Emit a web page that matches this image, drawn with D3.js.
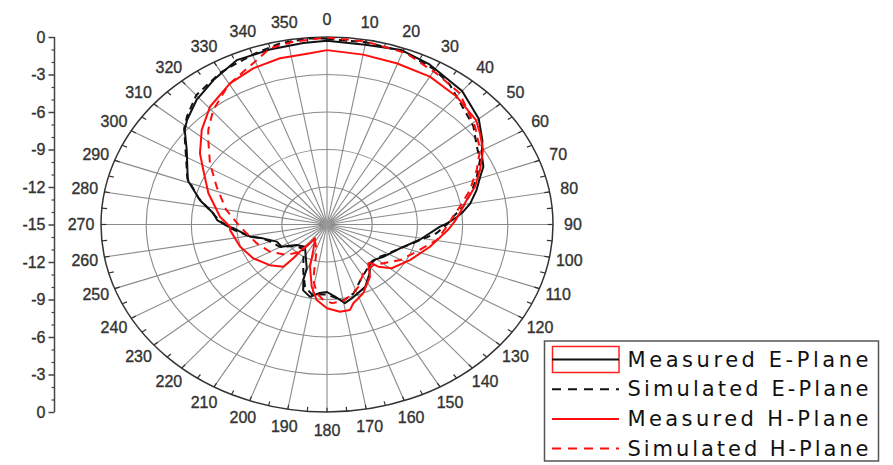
<!DOCTYPE html>
<html>
<head>
<meta charset="utf-8">
<script src="https://cdn.jsdelivr.net/npm/d3@7/dist/d3.min.js"></script>
<style>
  html, body { margin: 0; padding: 0; background: #fff; }
  svg { display: block; }
  text { font-family: "Liberation Sans", Arial, sans-serif; }
  text.legend-label { font-family: "DejaVu Sans", Verdana, sans-serif; }
</style>
</head>
<body>
<svg id="chart" width="893" height="465"></svg>
<script>
// Radiation pattern, normalised gain in dB (0 at rim, -15 at centre)
const angleLabels = ["0","10","20","30","40","50","60","70","80","90","100","110",
  "120","130","140","150","160","170","180","190","200","210","220","230",
  "240","250","260","270","280","290","300","310","320","330","340","350"];
const axisTickLabels = ["0","-3","-6","-9","-12","-15","-12","-9","-6","-3","0"];
const seriesNames = ["Measured E-Plane", "Simulated E-Plane", "Measured H-Plane", "Simulated H-Plane"];

const measE_angle = [0, 10, 19.5, 28, 40, 50, 57, 61, 66, 69.5, 74.5, 80, 83.5, 86, 89.3, 91.3,
  101, 111.5, 124.6, 132.7, 137.5, 143.8, 153, 163, 169.3, 174.7, 180, 185, 191, 196.7, 199.5,
  201, 212, 219.4, 231, 239.4, 247.6, 255.4, 259.2, 267.2, 268.5, 272.8, 276.8, 283, 291,
  302.6, 308.7, 312, 319, 327, 335.5, 344.8, 353.8, 360];
const measE_db = [-0.3, -0.4, -0.2, -0.5, -1.05, -1.85, -2.7, -3.26, -3.64, -4.15, -4.7, -5.35, -5.9, -6.35, -7.0, -7.5,
  -8.7, -9.8, -10.45, -10.8, -10.8, -10.2, -9.4, -8.95, -8.6, -9.2, -9.6, -9.5, -9.1, -9.5, -10.3,
  -11.25, -12.3, -12.7, -12.4, -11.5, -11.4, -10.6, -9.8, -8.8, -8.45, -7.7, -7.4, -6.35, -5.1,
  -3.95, -2.9, -2.5, -1.8, -1.2, -0.55, -0.5, -0.4, -0.3];

const simE_angle = [0, 10, 20, 30, 36, 48.6, 51, 58, 63, 69, 74.7, 81, 85.7, 90, 95.5, 103,
  113.8, 129.3, 138.7, 151, 162.4, 170, 180, 190, 196.3, 202.6, 211.4, 220, 232, 240, 250,
  256, 260, 266, 272, 278, 284, 292, 303, 309, 313, 320, 329.6, 335, 341, 348, 356, 360];
const simE_db = [-0.15, -0.2, -0.25, -0.7, -1.15, -2.35, -2.5, -3.27, -3.6, -4.35, -5.05, -5.85, -6.6, -7.05, -7.7, -8.9,
  -9.95, -10.75, -10.7, -10.2, -9.2, -8.8, -9.4, -9.3, -9.8, -10.9, -12.0, -12.5, -12.2, -11.4, -11.0,
  -10.5, -9.7, -8.8, -7.9, -7.2, -6.2, -5.0, -3.8, -2.8, -2.3, -1.5, -0.95, -0.78, -0.5, -0.17, -0.06, -0.15];

const measH_angle = [0, 10, 19.7, 30, 40, 49.8, 54.3, 60, 66.8, 72.9, 78, 82.6, 87.6, 93, 104.6,
  117.3, 129.2, 134.7, 136.3, 138.6, 145.7, 156.4, 164.5, 167.4, 173, 180, 186.5, 191.5, 198.5,
  204, 215.8, 217, 219.6, 219.6, 220.7, 229.4, 241, 253, 266, 268.4, 275, 279, 287.6, 298, 304,
  312.3, 320.5, 330.3, 338.6, 346.8, 355.3, 360];
const measH_db = [-1.05, -1.2, -1.3, -1.34, -1.63, -2.05, -2.5, -3.04, -3.95, -4.72, -5.52, -6.0, -6.45, -6.95, -7.94,
  -8.8, -9.46, -10.2, -10.7, -10.86, -9.94, -9.0, -8.46, -8.0, -7.97, -8.3, -8.92, -9.92, -11.44,
  -12.77, -13.64, -13.1, -12.5, -11.5, -10.55, -10.0, -9.41, -8.96, -8.55, -8.56, -7.87, -7.59, -6.74, -5.7, -4.83,
  -3.76, -2.79, -2.0, -1.58, -1.34, -1.26, -1.05];

const simH_angle = [0, 10, 21, 31, 40, 51.5, 59.6, 66.3, 73.8, 80.8, 86, 90, 99.7, 110, 120.4,
  129.7, 136.5, 148.3, 157.3, 162.4, 170, 177, 182.3, 187, 191.6, 194.4, 198.5, 212.7, 217,
  219.5, 227.6, 240, 252, 268.3, 280, 292.4, 302.2, 310.6, 313.8, 320.5, 329.6, 334.9, 340.5,
  345, 351.3, 360];
const simH_db = [-0.05, -0.14, -0.32, -0.9, -1.3, -2.44, -3.22, -4.15, -5.12, -6.06, -6.65, -6.95, -7.61, -8.66, -9.38,
  -10.14, -10.53, -10.41, -9.6, -9.22, -8.8, -8.7, -8.95, -9.45, -10.47, -11.8, -12.85, -13.5, -13.1,
  -12.18, -11.38, -10.64, -10.1, -9.22, -8.2, -7.08, -5.82, -4.62, -4.08, -3.13, -2.06, -1.64, -1.04,
  -0.4, -0.21, -0.05];

const series = [
  { name: seriesNames[0], angle: measE_angle, db: measE_db, color: "#111111", dash: null },
  { name: seriesNames[1], angle: simE_angle,  db: simE_db,  color: "#111111", dash: "7,5" },
  { name: seriesNames[2], angle: measH_angle, db: measH_db, color: "#ff0d0d", dash: null },
  { name: seriesNames[3], angle: simH_angle,  db: simH_db,  color: "#ff0d0d", dash: "8,6" }
];

const svg = d3.select("#chart");
const cx = 327, cy = 224.5, rx = 226, ry = 187.5;

const rScale = d3.scaleLinear().domain([-15, 0]).range([0, 1]);
const aScale = d3.scaleLinear().domain([0, 360]).range([0, 2 * Math.PI]);
const project = (deg, db) => {
  const r = rScale(db), a = aScale(deg);
  return [cx + rx * r * Math.sin(a), cy - ry * r * Math.cos(a)];
};

const grid = svg.append("g");

// spokes every 10 degrees
const spokeAngles = d3.range(0, 360, 10);
grid.selectAll("line.spoke").data(spokeAngles).join("line")
  .attr("x1", cx).attr("y1", cy)
  .attr("x2", d => project(d, 0)[0]).attr("y2", d => project(d, 0)[1])
  .attr("stroke", "#8a8a8a").attr("stroke-width", 1.1);

// dense hub where the spokes meet
grid.append("circle").attr("cx", cx).attr("cy", cy).attr("r", 4).attr("fill", "#999");

// rings every 3 dB
grid.selectAll("ellipse.ring").data([-12, -9, -6, -3]).join("ellipse")
  .attr("cx", cx).attr("cy", cy)
  .attr("rx", d => rx * rScale(d)).attr("ry", d => ry * rScale(d))
  .attr("fill", "none").attr("stroke", "#8a8a8a").attr("stroke-width", 1.1);

// outer rim with small ticks
grid.append("ellipse")
  .attr("cx", cx).attr("cy", cy).attr("rx", rx).attr("ry", ry)
  .attr("fill", "none").attr("stroke", "#333").attr("stroke-width", 1.5);
grid.selectAll("line.rimtick").data(d3.range(0, 360, 5)).join("line")
  .attr("x1", d => project(d, 0)[0]).attr("y1", d => project(d, 0)[1])
  .attr("x2", d => project(d, -0.35)[0]).attr("y2", d => project(d, -0.35)[1])
  .attr("stroke", "#333").attr("stroke-width", 1.2);

// angle labels around the rim
grid.selectAll("text.ang").data(angleLabels).join("text")
  .attr("x", d => cx + (rx + 20) * Math.sin(aScale(+d)))
  .attr("y", d => cy - (ry + 18) * Math.cos(aScale(+d)))
  .attr("text-anchor", "middle").attr("dominant-baseline", "central")
  .attr("font-size", 16).attr("fill", "#333")
  .attr("stroke", "#333").attr("stroke-width", 0.35)
  .text(d => d);

// pattern curves
const line = d3.line().curve(d3.curveLinear);
svg.append("g").selectAll("path").data(series).join("path")
  .attr("d", s => line(s.angle.map((a, i) => project(a, s.db[i]))))
  .attr("fill", "none")
  .attr("stroke", s => s.color)
  .attr("stroke-width", 2)
  .attr("stroke-linejoin", "round")
  .attr("stroke-dasharray", s => s.dash);

// left dB axis, mirrored about the centre
const yPos = d3.scaleLinear().domain([0, 30]).range([cy - ry, cy + ry]);
const axisX = 54.5;
const axis = d3.axisLeft(yPos)
  .tickValues(d3.range(0, 31, 3))
  .tickFormat((d, i) => axisTickLabels[i])
  .tickSize(6).tickPadding(3);
const ag = svg.append("g").attr("transform", `translate(${axisX},0)`).call(axis);
ag.select(".domain").attr("stroke", "#444").attr("stroke-width", 1.5).attr("d", `M0,${cy - ry}V${cy + ry}`);
ag.selectAll(".tick line").attr("stroke", "#444").attr("stroke-width", 1.5);
ag.selectAll(".tick text").attr("font-size", 16).attr("fill", "#333")
  .attr("stroke", "#333").attr("stroke-width", 0.35)
  .style("font-family", "'Liberation Sans', Arial, sans-serif");
const minor = d3.axisLeft(yPos)
  .tickValues(d3.range(0, 31, 1).filter(d => d % 3 !== 0))
  .tickSize(3).tickFormat("");
const mg = svg.append("g").attr("transform", `translate(${axisX},0)`).call(minor);
mg.select(".domain").remove();
mg.selectAll(".tick line").attr("stroke", "#444").attr("stroke-width", 1.2);

// legend
const lg = svg.append("g");
lg.append("rect").attr("x", 544.5).attr("y", 341).attr("width", 334).attr("height", 120)
  .attr("fill", "#fff").attr("stroke", "#555").attr("stroke-width", 1.5);
const rowY = [359.5, 389.3, 419.1, 448.6];
lg.append("rect").attr("x", 552.5).attr("y", 346.5).attr("width", 66.5).attr("height", 26)
  .attr("fill", "none").attr("stroke", "#ff2020").attr("stroke-width", 1.5);
series.forEach((s, i) => {
  lg.append("line").attr("x1", 552).attr("x2", 619).attr("y1", rowY[i]).attr("y2", rowY[i])
    .attr("stroke", s.color).attr("stroke-width", 2).attr("stroke-dasharray", s.dash ? "9,7" : null);
  lg.append("text").attr("class", "legend-label")
    .attr("x", 627.5).attr("y", rowY[i]).attr("dominant-baseline", "central")
    .attr("font-size", 21).attr("fill", "#111")
    .attr("textLength", 241).attr("lengthAdjust", "spacing")
    .text(s.name);
});
</script>
</body>
</html>
